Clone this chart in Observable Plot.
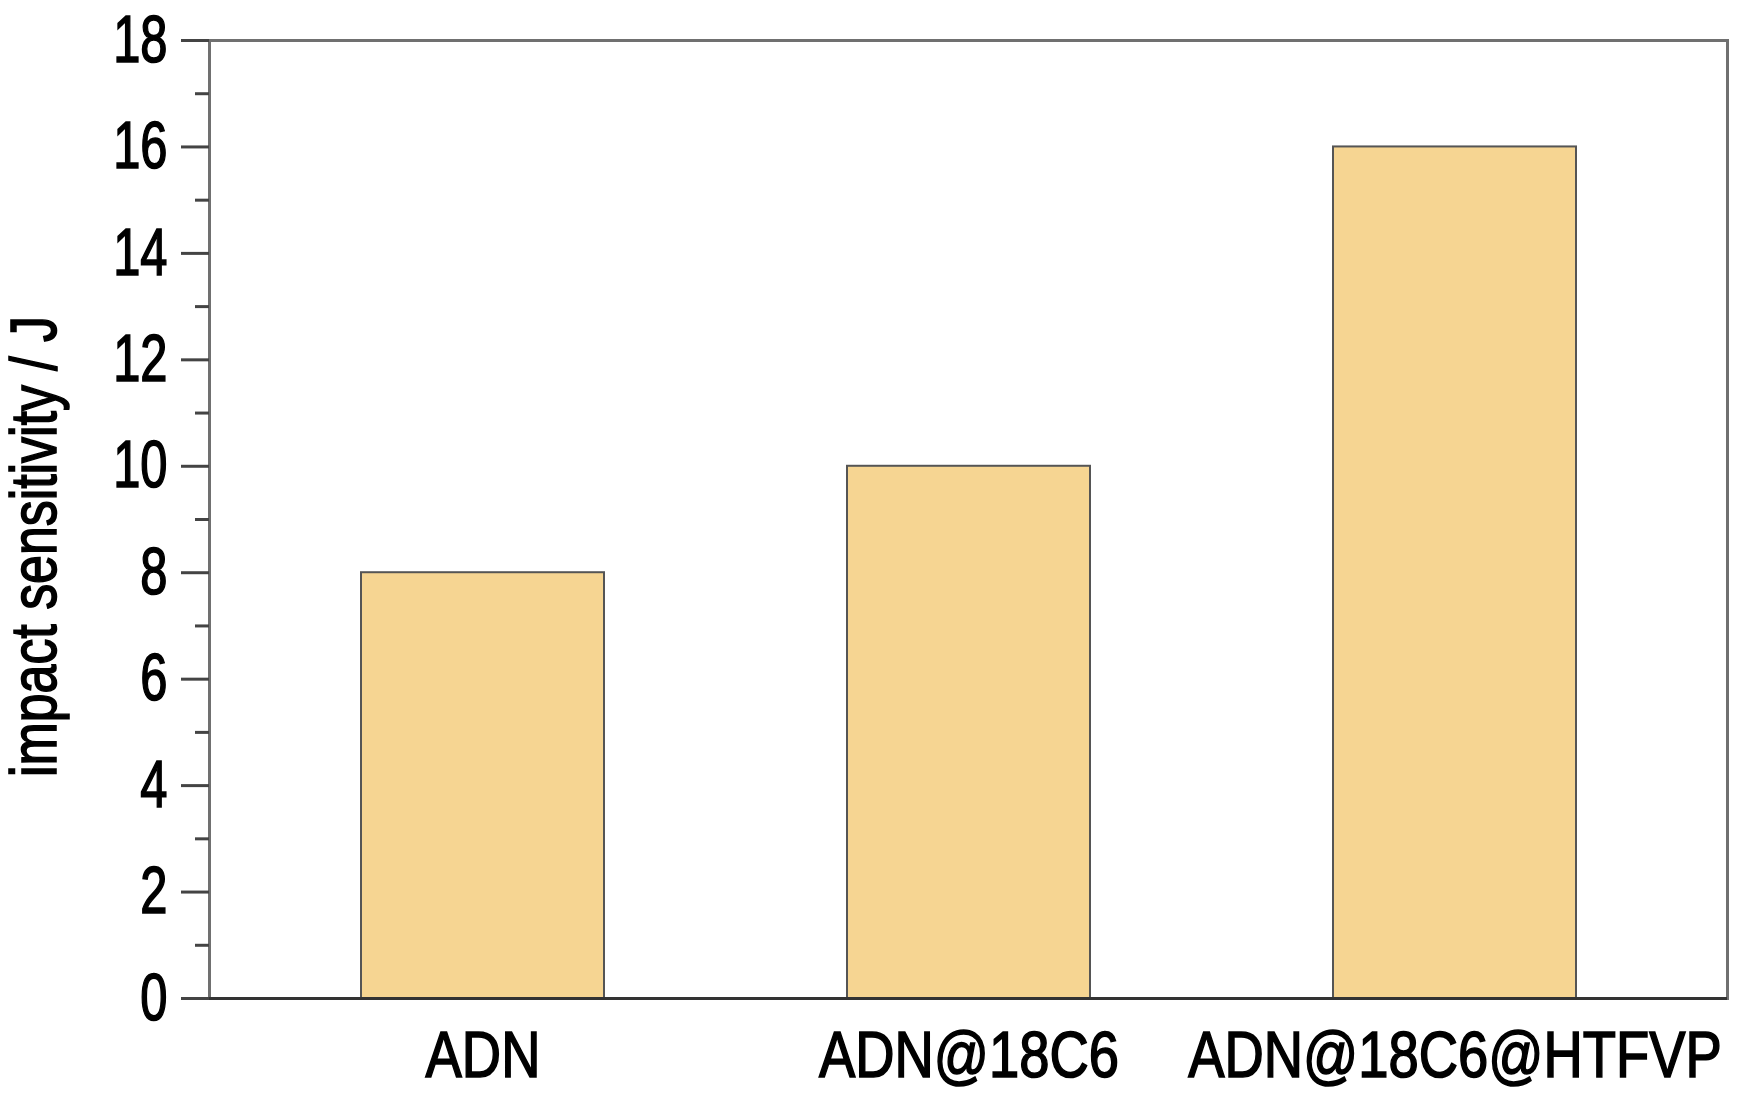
<!DOCTYPE html>
<html>
<head>
<meta charset="utf-8">
<script src="https://cdn.jsdelivr.net/npm/d3@7"></script>
<script src="https://cdn.jsdelivr.net/npm/@observablehq/plot@0.6"></script>
<style>
  html, body { margin: 0; padding: 0; background: #fff; }
  #chart svg { display: block; }
</style>
</head>
<body>
<div id="chart"></div>
<script>
const categories = ["ADN", "ADN@18C6", "ADN@18C6@HTFVP"];
const values = [8, 10, 16];
const majorTicks = [0, 2, 4, 6, 8, 10, 12, 14, 16, 18];
const minorTicks = [1, 3, 5, 7, 9, 11, 13, 15, 17];
const yLabel = "impact sensitivity / J";

const data = categories.map((c, i) => ({category: c, value: values[i]}));
const font = "'Liberation Sans', Arial, sans-serif";

const chart = Plot.plot({
  width: 1759,
  height: 1097,
  marginLeft: 209,
  marginRight: 32,
  marginTop: 40,
  marginBottom: 99,
  style: {fontFamily: font, background: "#fff", color: "#000"},
  x: {domain: categories, paddingInner: 0.5, paddingOuter: 0.31, align: 0.5},
  y: {domain: [0, 18]},
  marks: [
    Plot.barY(data, {x: "category", y: "value", fill: "#F6D592", stroke: "#555", strokeWidth: 2}),
    Plot.frame({stroke: "#707070", strokeWidth: 3}),
    Plot.ruleY([0], {stroke: "#333", strokeWidth: 3}),
    Plot.axisY(majorTicks, {tickSize: 28, tickPadding: 14, tickFormat: d => String(d), fontSize: 66, stroke: "#444", strokeWidth: 3, label: null}),
    Plot.axisY(minorTicks, {tickSize: 14, tickFormat: () => "", stroke: "#444", strokeWidth: 3, label: null}),
    Plot.axisX({tickSize: 0, tickPadding: 33, fontSize: 64, label: null}),
    Plot.text([yLabel], {text: d => d, frameAnchor: "left", rotate: -90, textAnchor: "middle", lineAnchor: "bottom", dx: -154, dy: 27, fontSize: 64, fill: "#000"})
  ]
});

document.getElementById("chart").appendChild(chart);

function squeeze(selector, factor) {
  d3.select(chart).selectAll(selector).each(function () {
    const L = this.getComputedTextLength();
    if (L > 0) {
      this.setAttribute("textLength", L * factor);
      this.setAttribute("lengthAdjust", "spacingAndGlyphs");
      this.style.stroke = "#000";
      this.style.strokeWidth = "1.6px";
    }
  });
}
squeeze('g[aria-label="y-axis tick label"] text', 0.74);
squeeze('g[aria-label="x-axis tick label"] text', 0.85);
squeeze('g[aria-label="text"] text', 0.81);
</script>
</body>
</html>
